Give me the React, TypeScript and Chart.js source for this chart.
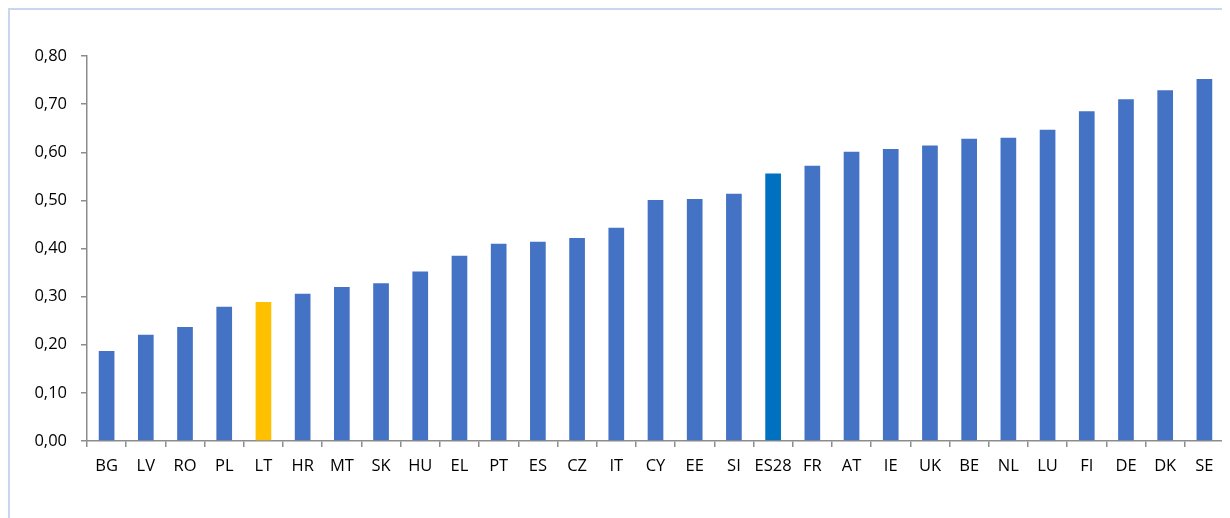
import React, { useEffect, useRef } from "react";
import { Chart, registerables } from "chart.js";

Chart.register(...registerables);

const categories = ["BG","LV","RO","PL","LT","HR","MT","SK","HU","EL","PT","ES","CZ","IT","CY","EE","SI","ES28","FR","AT","IE","UK","BE","NL","LU","FI","DE","DK","SE"];
const values = [0.187,0.221,0.237,0.279,0.289,0.306,0.320,0.328,0.352,0.385,0.410,0.414,0.422,0.443,0.501,0.503,0.514,0.556,0.572,0.601,0.607,0.614,0.628,0.630,0.647,0.685,0.710,0.729,0.752];
const highlightCountry = "LT";
const highlightAverage = "ES28";
const yTicksMax = 0.8;
const yTicksStep = 0.1;

export default function App() {
  const ref = useRef<HTMLCanvasElement | null>(null);
  useEffect(() => {
    if (!ref.current) return;
    const colors = categories.map((c) =>
      c === highlightCountry ? "#FFC000" : c === highlightAverage ? "#0070C0" : "#4472C4"
    );
    const axisColor = "#8c8c8c";
    const font = { family: "'Open Sans', sans-serif", size: 16.5 };
    const chart = new Chart(ref.current, {
      type: "bar",
      data: {
        labels: categories,
        datasets: [
          {
            data: values,
            backgroundColor: colors,
            borderWidth: 0,
            barPercentage: 0.4,
            categoryPercentage: 1,
          },
        ],
      },
      options: {
        animation: false,
        responsive: false,
        maintainAspectRatio: false,
        layout: { padding: { left: 0, right: 6, top: 46, bottom: 0 } },
        plugins: { legend: { display: false }, tooltip: { enabled: false } },
        scales: {
          x: {
            afterFit: (s: any) => { s.height = 77; },
            grid: {
              display: true,
              drawOnChartArea: false,
              drawTicks: true,
              tickLength: 6,
              color: axisColor,
              lineWidth: 1.5,
              offset: true,
            },
            border: { display: true, color: axisColor, width: 1.5 },
            ticks: { color: "#000", font, padding: 9, maxRotation: 0, autoSkip: false },
          },
          y: {
            min: 0,
            max: yTicksMax,
            afterFit: (s: any) => { s.width = 77; },
            grid: {
              display: true,
              drawOnChartArea: false,
              drawTicks: true,
              tickLength: 6,
              color: axisColor,
              lineWidth: 1.5,
            },
            border: { display: true, color: axisColor, width: 1.5 },
            ticks: {
              stepSize: yTicksStep,
              color: "#000",
              font,
              padding: 14,
              callback: (v: any) => Number(v).toFixed(2).replace(".", ","),
            },
          },
        },
      },
    });
    return () => chart.destroy();
  }, []);
  return (
    <div
      style={{
        position: "relative",
        width: 1222,
        height: 510,
        boxSizing: "border-box",
        borderTop: "2px solid #c9d6ee",
        borderLeft: "2px solid #c9d6ee",
        background: "#fff",
      }}
    >
      <canvas ref={ref} width={1220} height={508} style={{ display: "block", width: 1220, height: 508 }} />
    </div>
  );
}
